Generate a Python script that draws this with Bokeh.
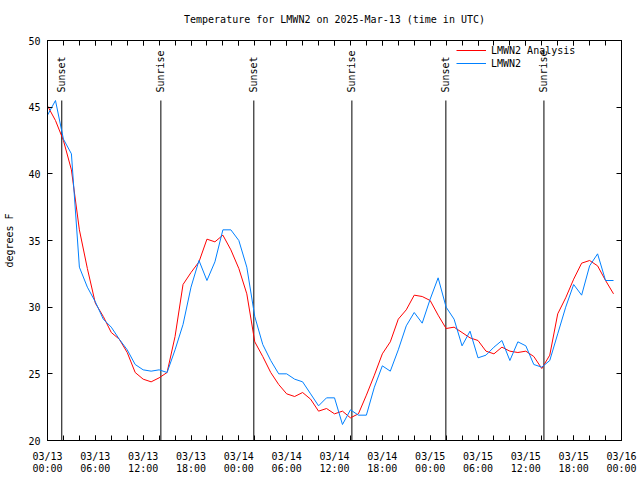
import numpy as np
from bokeh.plotting import figure
from bokeh.models import (Range1d, FixedTicker, LinearAxis, Legend, LegendItem,
                          ColumnDataSource, CustomLabelingPolicy)
from bokeh.embed import file_html
from bokeh.resources import INLINE
from bokeh.core.properties import value

# hours since 2025-03-13 00:00 UTC
hours = list(range(72))
analysis_f = [45.1, 44.0, 42.5, 40.3, 35.8, 32.9, 30.3, 29.3, 28.1, 27.6,
              26.6, 25.1, 24.6, 24.4, 24.7, 25.1, 27.8, 31.7, 32.6, 33.4,
              35.1, 34.9, 35.4, 34.3, 32.9, 31.0, 27.4, 26.3, 25.1, 24.2,
              23.5, 23.3, 23.6, 23.1, 22.2, 22.4, 22.0, 22.2, 21.7, 22.0,
              23.4, 24.9, 26.5, 27.4, 29.1, 29.8, 30.9, 30.8, 30.5, 29.4,
              28.4, 28.5, 28.1, 27.7, 27.5, 26.7, 26.5, 27.0, 26.7, 26.6,
              26.7, 26.3, 25.4, 26.4, 29.5, 30.7, 32.1, 33.3, 33.5, 33.1,
              32.0, 31.0]
obs_f = [44.4, 45.5, 42.6, 41.5, 33.0, 31.5, 30.4, 29.1, 28.5, 27.6,
         26.8, 25.7, 25.3, 25.2, 25.3, 25.1, 26.8, 28.7, 31.5, 33.5,
         32.0, 33.4, 35.8, 35.8, 35.0, 33.0, 29.3, 27.2, 26.0, 25.0,
         25.0, 24.6, 24.4, 23.5, 22.6, 23.2, 23.2, 21.2, 22.3, 21.9,
         21.9, 24.0, 25.6, 25.2, 26.8, 28.6, 29.6, 28.8, 30.6, 32.2,
         30.0, 29.1, 27.1, 28.2, 26.2, 26.4, 27.0, 27.5, 26.0, 27.4,
         27.1, 25.7, 25.5, 26.0, 28.0, 30.0, 31.7, 30.9, 33.1, 34.0,
         32.0, 32.0]

tick_hours = [0, 6, 12, 18, 24, 30, 36, 42, 48, 54, 60, 66, 72]
tick_labels = ["03/13\n00:00", "03/13\n06:00", "03/13\n12:00", "03/13\n18:00",
               "03/14\n00:00", "03/14\n06:00", "03/14\n12:00", "03/14\n18:00",
               "03/15\n00:00", "03/15\n06:00", "03/15\n12:00", "03/15\n18:00",
               "03/16\n00:00"]
minor_tick_hours = list(range(0, 73, 2))
y_ticks = [20, 25, 30, 35, 40, 45, 50]

event_hours = [1.79, 14.22, 25.88, 38.18, 49.97, 62.27]
event_names = ["Sunset", "Sunrise", "Sunset", "Sunrise", "Sunset", "Sunrise"]
event_line_top = 45.5
event_label_y = 46.1

FONT = "DejaVu Sans Mono"
FS = "10px"

p = figure(width=640, height=480, output_backend="svg", toolbar_location=None,
           x_range=Range1d(0, 72), y_range=Range1d(20, 50),
           min_border_left=47, min_border_right=19, min_border_top=40, min_border_bottom=40,
           title="Temperature for LMWN2 on 2025-Mar-13 (time in UTC)")
p.title.align = "center"
p.title.text_font = FONT
p.title.text_font_size = FS
p.title.text_font_style = "normal"
p.title.text_color = "black"
p.xgrid.visible = False
p.ygrid.visible = False
p.outline_line_color = "black"
p.outline_line_alpha = 1.0
p.background_fill_color = "white"
p.border_fill_color = "white"

xt = FixedTicker(ticks=tick_hours, minor_ticks=minor_tick_hours)
yt = FixedTicker(ticks=y_ticks, minor_ticks=[])

no_labels = CustomLabelingPolicy(code="""
    for (const i of Array.from(indices)) { indices.unset(i) }
    return indices
""")

def style_axis(ax):
    ax.major_tick_in = 5
    ax.major_tick_out = 0
    ax.minor_tick_in = 5
    ax.minor_tick_out = 0
    ax.axis_line_color = "black"
    ax.major_tick_line_color = "black"
    ax.minor_tick_line_color = "black"
    ax.major_label_text_font = FONT
    ax.major_label_text_font_size = FS
    ax.major_label_text_color = "black"
    ax.axis_label_text_font = FONT
    ax.axis_label_text_font_size = FS
    ax.axis_label_text_font_style = "normal"
    ax.axis_label_text_color = "black"

xa = p.xaxis[0]
xa.ticker = xt
xa.major_label_overrides = {h: lab for h, lab in zip(tick_hours, tick_labels)}
style_axis(xa)
xa.major_label_standoff = 10
xa.major_label_text_line_height = 1.1

ya = p.yaxis[0]
ya.ticker = yt
style_axis(ya)
ya.major_label_standoff = 7
ya.axis_label = "degrees F"
ya.axis_label_standoff = 10

top_ax = LinearAxis(ticker=xt, major_label_policy=no_labels)
style_axis(top_ax)
top_ax.major_label_standoff = 0
p.add_layout(top_ax, "above")

right_ax = LinearAxis(ticker=yt, major_label_policy=no_labels)
style_axis(right_ax)
right_ax.major_label_standoff = 0
p.add_layout(right_ax, "right")

# sunrise / sunset markers
ev = ColumnDataSource(dict(x=event_hours, y0=[p.y_range.start] * len(event_hours),
                           y1=[event_line_top] * len(event_hours),
                           ly=[event_label_y] * len(event_hours), name=event_names))
p.segment(x0="x", y0="y0", x1="x", y1="y1", source=ev, line_color="black", line_width=1)
p.text(x="x", y="ly", text="name", source=ev, angle=np.pi / 2, text_align="left",
       text_baseline="middle", text_font=value(FONT), text_font_size=FS, text_color="black")

src = ColumnDataSource(dict(h=hours, a=analysis_f, o=obs_f))
r_a = p.line("h", "a", source=src, line_color="#ff0000", line_width=1)
r_o = p.line("h", "o", source=src, line_color="#0080ff", line_width=1)

legend = Legend(items=[LegendItem(label="LMWN2 Analysis", renderers=[r_a]),
                       LegendItem(label="LMWN2", renderers=[r_o])],
                location=(407, 369))
legend.label_text_font = FONT
legend.label_text_font_size = FS
legend.label_text_color = "black"
legend.border_line_alpha = 0
legend.background_fill_alpha = 0
legend.glyph_width = 30
legend.glyph_height = 12
legend.label_height = 12
legend.spacing = 1
legend.padding = 2
legend.margin = 0
p.add_layout(legend)

open("out.html", "w").write(file_html(p, INLINE))
